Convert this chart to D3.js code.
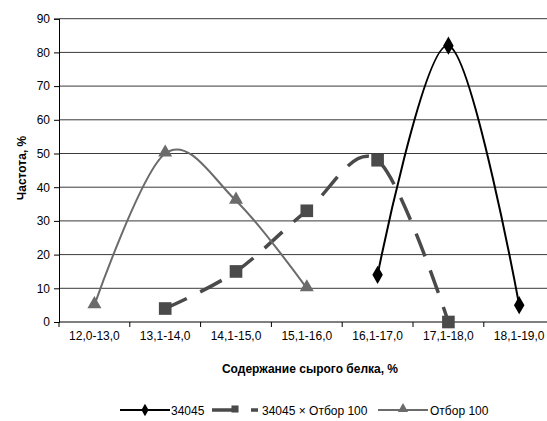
<!DOCTYPE html>
<html>
<head>
<meta charset="utf-8">
<script src="https://cdn.jsdelivr.net/npm/d3@7"></script>
<style>
  html, body { margin: 0; padding: 0; background: #fff; }
  svg { display: block; font-family: "Liberation Sans", Arial, sans-serif; }
</style>
</head>
<body>
<svg id="chart" width="547" height="421"></svg>
<script>
// Protein content classes (x categories)
const categories = ["12,0-13,0", "13,1-14,0", "14,1-15,0", "15,1-16,0", "16,1-17,0", "17,1-18,0", "18,1-19,0"];
// Frequency, % for each group (null = no value in that class)
const line34045 = [null, null, null, null, 14, 82, 5];
const lineCross = [null, 4, 15, 33, 48, 0, null];
const lineOtbor = [5, 50, 36, 10, null, null, null];
const yTicks = [0, 10, 20, 30, 40, 50, 60, 70, 80, 90];
const seriesNames = ["34045", "34045 × Отбор 100", "Отбор 100"];

const svg = d3.select("#chart");
const plotLeft = 59, plotRight = 554.6, plotTop = 18.7, plotBottom = 322;

const x = d3.scaleBand().domain(categories).range([plotLeft, plotRight]);
const y = d3.scaleLinear().domain([0, 90]).range([plotBottom, plotTop]);

// Horizontal gridlines
svg.append("g").selectAll("line").data(yTicks.filter(d => d > 0)).join("line")
  .attr("x1", plotLeft).attr("x2", 547)
  .attr("y1", d => y(d)).attr("y2", d => y(d))
  .attr("stroke", "#3a3a3a").attr("stroke-width", 1);

// Y axis
const yAxis = svg.append("g").attr("transform", `translate(${plotLeft},0)`)
  .call(d3.axisLeft(y).tickValues(yTicks).tickSize(5).tickPadding(4));
yAxis.select(".domain").attr("stroke", "#000");
yAxis.selectAll(".tick line").attr("stroke", "#000");
yAxis.selectAll("text").attr("font-size", 12).attr("fill", "#000")
  .attr("font-family", "Liberation Sans, Arial, sans-serif");

// X axis with ticks on category boundaries
const xg = svg.append("g").attr("transform", `translate(0,${plotBottom})`);
xg.append("line").attr("x1", plotLeft).attr("x2", 547).attr("y1", 0).attr("y2", 0).attr("stroke", "#000");
xg.selectAll(".tk").data(categories).join("line").attr("class", "tk")
  .attr("x1", d => x(d)).attr("x2", d => x(d)).attr("y1", 0).attr("y2", 5).attr("stroke", "#000");
xg.selectAll(".lbl").data(categories).join("text").attr("class", "lbl")
  .attr("x", d => x(d) + x.bandwidth() / 2).attr("y", 18)
  .attr("text-anchor", "middle").attr("font-size", 12).text(d => d);

// Axis titles
svg.append("text").attr("x", 310).attr("y", 373).attr("text-anchor", "middle")
  .attr("font-size", 12).attr("font-weight", "bold").text("Содержание сырого белка, %");
svg.append("text").attr("transform", "translate(26,168) rotate(-90)").attr("text-anchor", "middle")
  .attr("font-size", 12).attr("font-weight", "bold").text("Частота, %");

const cx = i => x(categories[i]) + x.bandwidth() / 2;
const line = d3.line()
  .defined(d => d != null)
  .x((d, i) => cx(i))
  .y(d => y(d))
  .curve(d3.curveCatmullRom.alpha(0));

function pts(arr) { return arr.map((v, i) => ({v, i})).filter(d => d.v != null); }

const diamond = d3.symbol().type(d3.symbolDiamond).size(95);
const square = d3.symbol().type(d3.symbolSquare).size(160);
const triangle = d3.symbol().type(d3.symbolTriangle).size(85);

// 34045
svg.append("path").datum(line34045).attr("d", line)
  .attr("fill", "none").attr("stroke", "#000").attr("stroke-width", 2);
svg.append("g").selectAll("path").data(pts(line34045)).join("path")
  .attr("transform", d => `translate(${cx(d.i)},${y(d.v)})`)
  .attr("d", diamond).attr("fill", "#000");

// 34045 × Отбор 100
svg.append("path").datum(lineCross).attr("d", line)
  .attr("fill", "none").attr("stroke", "#4a4a4a").attr("stroke-width", 3.5)
  .attr("stroke-dasharray", "24,15");
svg.append("g").selectAll("path").data(pts(lineCross)).join("path")
  .attr("transform", d => `translate(${cx(d.i)},${y(d.v)})`)
  .attr("d", square).attr("fill", "#4a4a4a");

// Отбор 100
svg.append("path").datum(lineOtbor).attr("d", line)
  .attr("fill", "none").attr("stroke", "#6b6b6b").attr("stroke-width", 2);
svg.append("g").selectAll("path").data(pts(lineOtbor)).join("path")
  .attr("transform", d => `translate(${cx(d.i)},${y(d.v) - 1})`)
  .attr("d", triangle).attr("fill", "#6b6b6b");

// Legend
const lg = svg.append("g").attr("font-size", 12);
const ly = 410;
lg.append("line").attr("x1", 120).attr("x2", 170).attr("y1", ly).attr("y2", ly).attr("stroke", "#000").attr("stroke-width", 2);
lg.append("path").attr("transform", `translate(145,${ly})`).attr("d", d3.symbol().type(d3.symbolDiamond).size(45)).attr("fill", "#000");
lg.append("text").attr("x", 171).attr("y", ly + 4.5).text(seriesNames[0]);

lg.append("line").attr("x1", 212).attr("x2", 258).attr("y1", ly).attr("y2", ly)
  .attr("stroke", "#4a4a4a").attr("stroke-width", 3.5).attr("stroke-dasharray", "24,15");
lg.append("path").attr("transform", `translate(235,${ly - 1})`).attr("d", d3.symbol().type(d3.symbolSquare).size(50)).attr("fill", "#4a4a4a");
lg.append("text").attr("x", 262).attr("y", ly + 4.5).text(seriesNames[1]);

lg.append("line").attr("x1", 378).attr("x2", 428).attr("y1", ly).attr("y2", ly).attr("stroke", "#6b6b6b").attr("stroke-width", 2);
lg.append("path").attr("transform", `translate(403,${ly - 1})`).attr("d", d3.symbol().type(d3.symbolTriangle).size(45)).attr("fill", "#6b6b6b");
lg.append("text").attr("x", 430).attr("y", ly + 4.5).text(seriesNames[2]);
</script>
</body>
</html>
